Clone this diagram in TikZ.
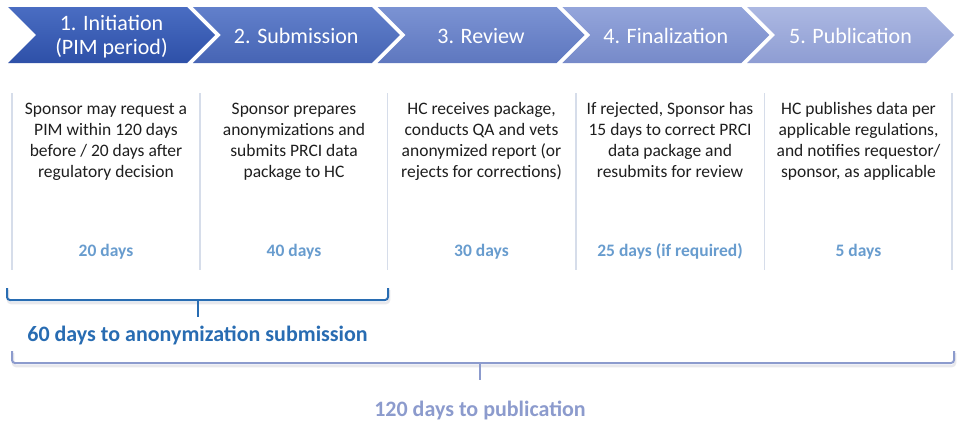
\documentclass[tikz,border=0pt]{standalone}
\usepackage{fontspec}
\setmainfont{Carlito}
\usetikzlibrary{positioning}

\definecolor{phaseAtop}{RGB}{74,109,194}
\definecolor{phaseAbot}{RGB}{46,80,168}
\definecolor{phaseBtop}{RGB}{98,128,203}
\definecolor{phaseBbot}{RGB}{70,100,180}
\definecolor{phaseCtop}{RGB}{123,147,211}
\definecolor{phaseCbot}{RGB}{94,119,191}
\definecolor{phaseDtop}{RGB}{148,165,219}
\definecolor{phaseDbot}{RGB}{118,138,201}
\definecolor{phaseEtop}{RGB}{172,184,226}
\definecolor{phaseEbot}{RGB}{142,157,211}
\definecolor{bodyText}{RGB}{30,30,30}
\definecolor{daysBlue}{RGB}{104,156,206}
\definecolor{sepGrey}{RGB}{214,221,234}
\definecolor{braceBlue}{RGB}{40,108,178}
\definecolor{braceLav}{RGB}{140,155,205}
\definecolor{shadowGrey}{RGB}{232,232,236}

\tikzstyle{Phase} = [
    inner sep = 0pt,
    text = white,
    align = center,
    font = \fontsize{22}{24}\selectfont
]

\begin{document}
\begin{tikzpicture}[
x = 1pt, y = -1pt,
desc/.style={
    anchor = north,
    inner sep = 0pt,
    align = center,
    text = bodyText,
    font = \fontsize{17.5}{21}\selectfont
    },
days/.style={
    anchor = base,
    inner sep = 0pt,
    text = daysBlue,
    font = \bfseries\fontsize{17.5}{21}\selectfont
    },
sep/.style={
    sepGrey,
    line width = 1.5pt
    },
brace/.style={
    line width = 2pt,
    rounded corners = 3pt
    },
total/.style={
    anchor = base,
    inner sep = 0pt,
    font = \bfseries\fontsize{22}{26}\selectfont
    }
]
\useasboundingbox (0,0) rectangle (974,431);

% phase chevrons
\shade[top color=phaseAtop, bottom color=phaseAbot] (8,7) -- ++(179,0) -- ++(28,28) -- ++(-28,28) -- ++(-179,0) -- ++(28,-28) -- cycle;
\shade[top color=phaseBtop, bottom color=phaseBbot] (192.75,7) -- ++(179,0) -- ++(28,28) -- ++(-28,28) -- ++(-179,0) -- ++(28,-28) -- cycle;
\shade[top color=phaseCtop, bottom color=phaseCbot] (377.5,7) -- ++(179,0) -- ++(28,28) -- ++(-28,28) -- ++(-179,0) -- ++(28,-28) -- cycle;
\shade[top color=phaseDtop, bottom color=phaseDbot] (562.25,7) -- ++(179,0) -- ++(28,28) -- ++(-28,28) -- ++(-179,0) -- ++(28,-28) -- cycle;
\shade[top color=phaseEtop, bottom color=phaseEbot] (747,7) -- ++(179,0) -- ++(28,28) -- ++(-28,28) -- ++(-179,0) -- ++(28,-28) -- cycle;

\node [Phase] (p1) at (111.5,36.5) {1. Initiation\\(PIM period)};
\node [Phase, anchor=base] (p2) at (296.25,43) {2. Submission};
\node [Phase, anchor=base] (p3) at (481,43) {3. Review};
\node [Phase, anchor=base] (p4) at (665.75,43) {4. Finalization};
\node [Phase, anchor=base] (p5) at (850.5,43) {5. Publication};

% column separators
\draw[sep] (12,93) -- (12,270);
\draw[sep] (200,93) -- (200,270);
\draw[sep] (387.5,93) -- (387.5,270);
\draw[sep] (576,93) -- (576,270);
\draw[sep] (764.5,93) -- (764.5,270);
\draw[sep] (952,93) -- (952,270);

% descriptions
\node [desc] (d1) at (106,100) {\strut Sponsor may request a\\PIM within 120 days\\before / 20 days after\\regulatory decision};
\node [desc] (d2) at (294,100) {\strut Sponsor prepares\\anonymizations and\\submits PRCI data\\package to HC};
\node [desc] (d3) at (481.5,100) {\strut HC receives package,\\conducts QA and vets\\anonymized report (or\\rejects for corrections)};
\node [desc] (d4) at (670,100) {\strut If rejected, Sponsor has\\15 days to correct PRCI\\data package and\\resubmits for review};
\node [desc] (d5) at (858.5,100) {\strut HC publishes data per\\applicable regulations,\\and notifies requestor/\\sponsor, as applicable};

% durations
\node [days] (t1) at (106,256) {20 days};
\node [days] (t2) at (294,256) {40 days};
\node [days] (t3) at (481.5,256) {30 days};
\node [days] (t4) at (670,256) {25 days (if required)};
\node [days] (t5) at (858.5,256) {5 days};

% brackets
\draw[brace, shadowGrey, line width=2.5pt] (8,290) -- (8,303) -- (389,303) -- (389,290);
\draw[brace, braceBlue] (7,288) -- (7,300) -- (388,300) -- (388,288);
\coordinate (b1) at (198,300);
\coordinate (b1end) at (198,317);
\draw[braceBlue, line width=2pt] (b1) -- (b1end);
\node [total, text=braceBlue] (s1) at (197.5,341) {60 days to anonymization submission};

\draw[brace, shadowGrey, line width=2.5pt] (13,353) -- (13,366) -- (955,366) -- (955,353);
\draw[brace, braceLav] (12,351) -- (12,363) -- (954,363) -- (954,351);
\coordinate (b2) at (480,363);
\coordinate (b2end) at (480,380);
\draw[braceLav, line width=2pt] (b2) -- (b2end);
\node [total, text=braceLav] (s2) at (480,416) {120 days to publication};

\end{tikzpicture}
\end{document}
